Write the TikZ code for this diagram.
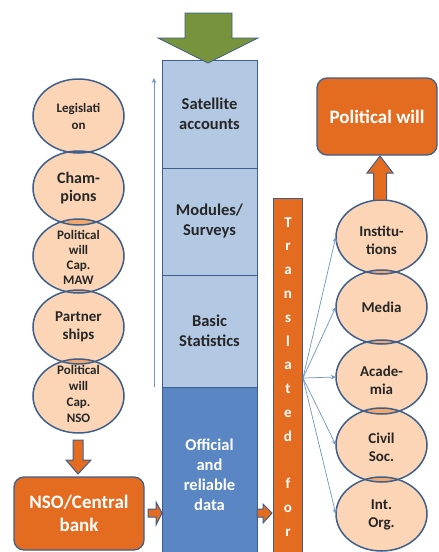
\documentclass[tikz,border=0pt]{standalone}
\usepackage{fontspec}
\setmainfont{Carlito}
\usetikzlibrary{shapes.geometric,arrows.meta}

\definecolor{orng}{HTML}{E36C21}
\definecolor{edgeblue}{HTML}{3E5F8C}
\definecolor{peach}{HTML}{FBD5B5}
\definecolor{lensc}{HTML}{EF9A55}
\definecolor{cellblue}{HTML}{B3C8E3}
\definecolor{deepblue}{HTML}{5A87C3}
\definecolor{olive}{HTML}{77933C}
\definecolor{ink}{HTML}{262626}
\definecolor{thinblue}{HTML}{6E93C9}

\begin{document}
\begin{tikzpicture}[x=1pt,y=-1pt,
  bubble/.style={ellipse, fill=peach, minimum width=91pt, minimum height=74pt, inner sep=0pt},
  bubtext/.style={align=center, text=ink, inner sep=0pt, font=\bfseries\fontsize{15}{18}\selectfont},
  ring/.style={draw=edgeblue, line width=1.5pt},
  lens/.style={fill=lensc, fill opacity=0.75},
  cell/.style={rectangle, draw=edgeblue, line width=0.9pt, minimum width=95pt, inner sep=0pt,
               align=center, font=\bfseries\fontsize{16.5}{20}\selectfont},
  orangebox/.style={rectangle, rounded corners=10pt, fill=orng, draw=edgeblue, line width=1.3pt,
               text=white, align=center, inner sep=0pt, font=\bfseries\fontsize{19}{23}\selectfont},
  blockarrow/.style={fill=orng, draw=edgeblue, line width=1pt, line join=miter},
  thinarrow/.style={draw=thinblue, line width=0.8pt, -{Stealth[length=5pt,width=4.5pt]}},
  letter/.style={text=white, inner sep=0pt, anchor=base, font=\bfseries\fontsize{15}{15}\selectfont}]

\useasboundingbox (0,0) rectangle (439,552);
\clip (0,0) rectangle (439,552);

% ---------- left stack of bubbles ----------
\foreach \n/\y in {1/116,2/188,3/256,4/327,5/396}
  \node[bubble] (L\n) at (78.5,\y) {};
\node[bubtext, font=\bfseries\fontsize{13}{17}\selectfont] (L1t) at (L1) {Legislati\\on};
\node[bubtext, font=\bfseries\fontsize{16}{18}\selectfont] (L2t) at (L2) {Cham-\\pions};
\node[bubtext, font=\bfseries\fontsize{13}{15}\selectfont] (L3t) at (78.5,257) {Political\\will\\Cap.\\MAW};
\node[bubtext] (L4t) at (L4) {Partner\\ships};
\node[bubtext, font=\bfseries\fontsize{13}{16}\selectfont] (L5t) at (78.5,394) {Political\\will\\Cap.\\NSO};
\foreach \a/\b in {L1/L2,L2/L3,L3/L4,L4/L5}{
  \begin{scope}
    \clip (\a.center) ellipse [x radius=45.5, y radius=37];
    \fill[lens] (\b.center) ellipse [x radius=45.5, y radius=37];
  \end{scope}}
\foreach \n in {L1,L2,L3,L4,L5}
  \draw[ring] (\n.center) ellipse [x radius=45.5, y radius=37];

% ---------- right stack of bubbles ----------
\foreach \n/\y in {1/237,2/307,3/377,4/445,5/514}
  \node[bubble] (R\n) at (381.5,\y) {};
\node[bubtext] (R1t) at (381.5,240) {Institu-\\tions};
\node[bubtext] (R2t) at (381.5,307) {Media};
\node[bubtext] (R3t) at (381.5,380) {Acade-\\mia};
\node[bubtext] (R4t) at (381.5,447) {Civil\\Soc.};
\node[bubtext] (R5t) at (381.5,515) {Int.\\Org.};
\foreach \a/\b in {R1/R2,R2/R3,R3/R4,R4/R5}{
  \begin{scope}
    \clip (\a.center) ellipse [x radius=45.5, y radius=37];
    \fill[lens] (\b.center) ellipse [x radius=45.5, y radius=37];
  \end{scope}}
\foreach \n in {R1,R2,R3,R4,R5}
  \draw[ring] (\n.center) ellipse [x radius=45.5, y radius=37];

% ---------- central column ----------
\node[cell, fill=cellblue, minimum height=108pt, text=ink] (sat) at (209.5,114) {Satellite\\accounts};
\node[cell, fill=cellblue, minimum height=107pt, text=ink] (mod) at (209.5,221.5) {Modules/\\Surveys};
\node[cell, fill=cellblue, minimum height=112pt, text=ink] (bas) at (209.5,331) {Basic\\Statistics};
\node[cell, fill=deepblue, minimum height=175pt, text=white] (off) at (209.5,474.5) {Official\\and\\reliable\\data};

% rising arrow beside the column
\coordinate (upS) at (154,387);
\coordinate (upE) at (154,78);
\draw[thinarrow] (upS) -- (upE);

% green arrow pointing into the column
\fill[olive, draw=edgeblue, line width=0.8pt]
  (185,13) -- (232,13) -- (232,38) -- (258,38) -- (208,63) -- (158,38) -- (185,38) -- cycle;

% ---------- orange boxes ----------
\node[orangebox, minimum width=130pt, minimum height=73pt] (nso) at (79,513.5) {NSO/Central\\bank};
\node[orangebox, minimum width=120pt, minimum height=77pt] (pol) at (377,116.5) {Political will};
\node[rectangle, fill=orng, draw=edgeblue, line width=1pt, minimum width=29pt, minimum height=370pt,
      inner sep=0pt] (bar) at (287.5,383) {};
\foreach \ch [count=\i from 0] in {T,r,a,n,s,l,a,t,e,d,{},f,o,r}
  \node[letter] (ch\i) at (288,{227+23.8*\i}) {\ch};

% ---------- block arrows ----------
\draw[blockarrow] (73,440) -- (83,440) -- (83,460) -- (91,460) -- (78,474) -- (66,460) -- (73,460) -- cycle;
\draw[blockarrow] (148,509) -- (156,509) -- (156,502) -- (162,513) -- (156,525) -- (156,517) -- (148,517) -- cycle;
\draw[blockarrow] (257,509) -- (263,509) -- (263,504) -- (272,513) -- (263,523) -- (263,517) -- (257,517) -- cycle;
\draw[blockarrow] (373.5,200) -- (373.5,173) -- (367,173) -- (380,156) -- (393,173) -- (386.5,173) -- (386.5,200) -- cycle;

% ---------- fan of arrows from the bar to the audiences ----------
\coordinate (fan) at (303,378);
\foreach \n in {R1,R2,R3,R4,R5}
  \draw[thinarrow, line width=0.7pt] (fan) -- (\n.west);

\end{tikzpicture}
\end{document}
